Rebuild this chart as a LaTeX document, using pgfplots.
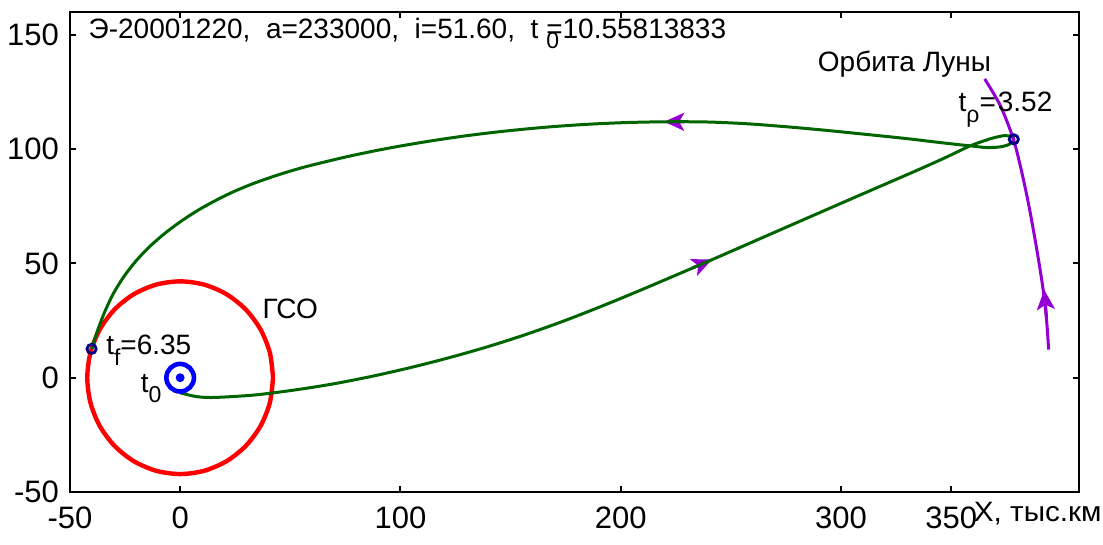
\documentclass[border=0pt]{standalone}
\usepackage{fontspec}
\setmainfont{Liberation Sans}
\usepackage{graphicx}
\usepackage{pgfplots}
\pgfplotsset{compat=1.18}
\usetikzlibrary{arrows.meta}
\definecolor{traj}{HTML}{006400}
\definecolor{geo}{HTML}{FF0000}
\definecolor{moon}{HTML}{9400D3}
\definecolor{tzero}{HTML}{0000FF}
\definecolor{ptc}{HTML}{000080}
\newcommand{\lbl}{\fontsize{14}{16}\selectfont}
\newcommand{\tlbl}{\fontsize{15.5}{17}\selectfont}
\newcommand{\sub}[1]{\raisebox{-0.38em}{\fontsize{11.5}{12}\selectfont #1}}
\tikzset{dirarrow/.style={moon, line width=1.5pt,
  -{Stealth[length=10pt,width=9pt,inset=2.5pt]}}}

\begin{document}
\begin{tikzpicture}
\begin{axis}[name=ax, at={(0,0)}, anchor=south west,
  scale only axis, width=504.5pt, height=240pt,
  xmin=-50, xmax=408, ymin=-50, ymax=160,
  xtick={-50,0,100,200,300,350}, xticklabels={-50,0,100,200,300,350},
  ytick={-50,0,50,100,150}, yticklabels={-50,0,50,100,150},
  tick align=inside, major tick length=3pt,
  every tick/.style={black, line width=1pt},
  axis line style={line width=1.1pt},
  ticklabel style={font=\tlbl},
  xticklabel style={yshift=-4pt},
  yticklabel style={xshift=-2pt},
  clip=false,
]
% geostationary orbit, r = 42.16 thousand km
\addplot[geo, line width=2.2pt, smooth] coordinates {
  (42.16,0) (40.72,10.91) (36.51,21.08) (29.81,29.81) (21.08,36.51) (10.91,40.72)
  (0,42.16) (-10.91,40.72) (-21.08,36.51) (-29.81,29.81) (-36.51,21.08) (-40.72,10.91)
  (-42.16,0) (-40.72,-10.91) (-36.51,-21.08) (-29.81,-29.81) (-21.08,-36.51) (-10.91,-40.72)
  (0,-42.16) (10.91,-40.72) (21.08,-36.51) (29.81,-29.81) (36.51,-21.08) (40.72,-10.91)
  (42.16,0)};

% direction arrows on the trajectory
\addplot[dirarrow] coordinates {(229,111.95) (219.7,112.0)};
\addplot[dirarrow] coordinates {(232.5,48.0) (241.4,51.7)};

% flight trajectory: outbound leg, loop near perilune, return leg
\addplot[traj, line width=1.5pt, smooth] coordinates {
  (0,-6.6) (7.3,-8.25) (15.4,-8.64) (33.5,-7.59) (51.5,-5.44) (69.4,-2.72)
  (87.3,0.66) (104.9,4.52) (122.5,8.86) (140.0,13.68) (157.3,19.04)
  (174.4,24.91) (191.3,31.27) (208.1,37.94) (224.8,44.78) (241.5,51.67)
  (272.5,64.74) (304.3,78.11) (334.6,90.79) (347.4,96.32) (358.7,101.45)
  (368,104.6) (374,105.9) (377.6,105.5) (378.4,104.3)
  (376.5,102.2) (372.3,101) (366,100.7) (358.7,101.45) (353.3,101.97)
  (342.1,103.2) (329.0,104.69) (311.0,106.49) (292.9,108.25) (274.8,109.82)
  (256.7,111.14) (238.6,111.89) (220.5,111.97) (202.3,111.62) (184.2,110.83)
  (166.1,109.61) (148.0,107.94) (130.0,105.88) (112.1,103.33) (94.2,100.35)
  (76.4,96.84) (58.8,92.76) (50.0,90.39) (41.4,87.76) (32.8,84.80)
  (24.4,81.45) (16.3,77.63) (8.3,73.38) (0.7,68.64) (-6.6,63.42)
  (-13.5,57.68) (-19.8,51.36) (-25.4,44.43) (-30.2,37.02) (-34.1,29.12)
  (-37.4,20.92) (-40.2,12.6)};

% lunar orbit
\addplot[moon, line width=1.5pt, smooth] coordinates {
  (365.2,130.7) (372.3,119) (378.2,104.4) (382,90) (385.3,75)
  (388.5,58) (391.5,40) (393.3,25) (394.2,12.3)};
\addplot[dirarrow] coordinates {(393.3,26) (392.2,38.5)};

% key points
\addplot[only marks, mark=o, mark size=6.9pt, mark options={tzero, line width=2.3pt}]
  coordinates {(0,0)};
\addplot[only marks, mark=*, mark size=2pt, mark options={tzero}]
  coordinates {(0,0)};
\addplot[only marks, mark=o, mark size=2.3pt, mark options={ptc, line width=1.4pt}]
  coordinates {(-40.2,12.6) (378.4,104.3)};

% labels
\node[anchor=base west, font=\lbl, inner sep=0pt] at (axis cs:-41.7,148.5)
  {Э-20001220,\ \ a=233000,\ \ i=51.60,\ \ t \makebox[0pt][l]{\sub{0}}=10.55813833};
\node[anchor=base west, font=\lbl, inner sep=0pt] at (axis cs:289.3,133.8) {Орбита Луны};
\node[anchor=base west, font=\lbl, inner sep=0pt] at (axis cs:353.2,116.4)
  {t\sub{ρ}=\hspace{1pt}3.52};
\node[anchor=base west, font=\lbl, inner sep=0pt] at (axis cs:-33.7,10.1) {t\sub{f}=6.35};
\node[anchor=base west, font=\lbl, inner sep=0pt] at (axis cs:-18,-6.4) {t\sub{0}};
\node[anchor=base west, font=\lbl, inner sep=0pt] at (axis cs:37.2,25.7) {ГСО};
\node[anchor=base west, font=\lbl, inner sep=0pt] at (axis cs:360.1,-62.7)
  {\scalebox{1.06}[1]{X, тыс.км}};
\end{axis}
\pgfresetboundingbox
\path[use as bounding box] ([shift={(-35pt,-26.5pt)}]ax.south west)
  rectangle ([shift={(516.5pt,246pt)}]ax.south west);
\end{tikzpicture}
\end{document}
